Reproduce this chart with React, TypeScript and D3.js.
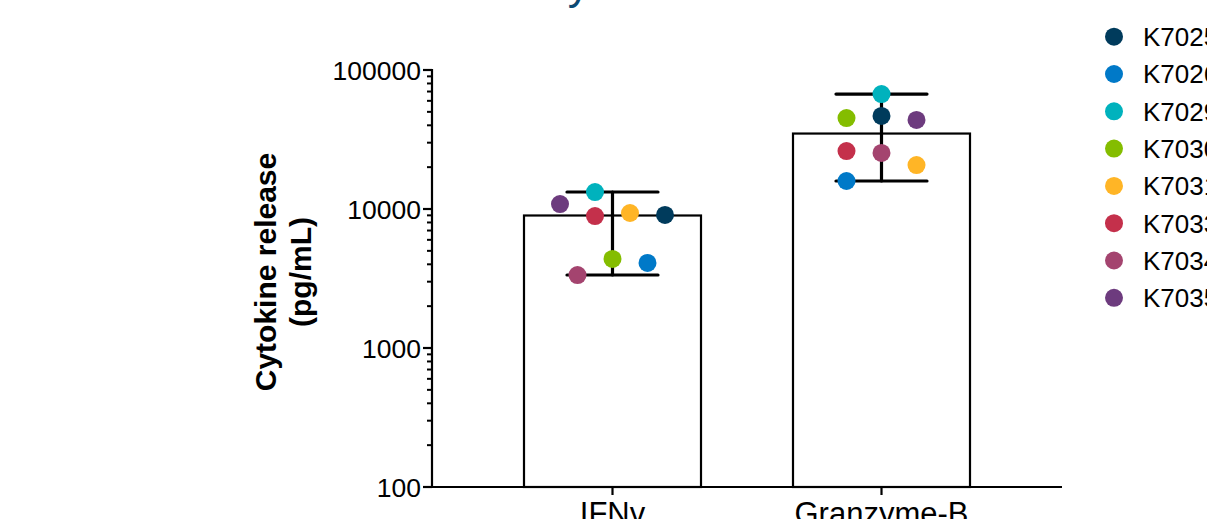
import React from "react";
import * as d3 from "d3";

const categories = ["IFNγ", "Granzyme-B"];
const donors = ["K7025", "K7026", "K7029", "K7030", "K7031", "K7033", "K7034", "K7035"];
const donorColors = ["#003b5c", "#0079c8", "#00b2bd", "#84bd00", "#ffb526", "#c4304b", "#a4446f", "#6d3b7e"];
const ifngValues = [9060, 4090, 13250, 4370, 9360, 8900, 3350, 10860];
const granzymeValues = [46700, 15900, 67100, 45100, 20700, 26100, 25300, 43700];
const seriesValues = [ifngValues, granzymeValues];
// beeswarm slot of each donor within its column (layout order)
const ifngSlots = [3, 2, -1, 0, 1, -1, -2, -3];
const granzymeSlots = [0, -2, 0, -2, 2, -2, 0, 2];
const slots = [ifngSlots, granzymeSlots];
const yTickValues = [100, 1000, 10000, 100000];
const yTickLabels = ["100", "1000", "10000", "100000"];
const titleText = "Cytokine release";
const yLabelLines = ["Cytokine release", "(pg/mL)"];

const W = 1207;
const H = 519;
const FONT = "Liberation Sans, Arial, Helvetica, sans-serif";

export default function App() {
  const left = 432;
  const right = 1062;
  const top = 70;
  const bottom = 487;

  const y = d3.scaleLog().domain([100, 100000]).range([bottom, top]);
  const x = d3.scalePoint<string>().domain(categories).range([left, right]).padding(0.671);
  const step = x.step();
  const barW = step * 0.658;
  const slotW = 17.5;
  const capHalf = 45.5;

  const minorTicks: number[] = [];
  for (let d = 100; d < 100000; d *= 10) {
    for (let k = 2; k <= 9; k++) minorTicks.push(d * k);
  }

  return (
    <svg width={W} height={H} style={{ position: "absolute", left: 0, top: 0, background: "#fff" }} fontFamily={FONT}>
      {/* title (mostly outside the frame) */}
      <text x={536} y={-1.5} fontSize={44} fill="#0b4a74">{titleText}</text>

      {/* bars */}
      {categories.map((c, i) => {
        const med = d3.median(seriesValues[i]) as number;
        const cx = x(c) as number;
        return (
          <rect key={c} x={cx - barW / 2} y={y(med)} width={barW} height={bottom - y(med)}
            fill="#fff" stroke="#000" strokeWidth={2.2} />
        );
      })}

      {/* error bars (range) */}
      {categories.map((c, i) => {
        const mn = d3.min(seriesValues[i]) as number;
        const mx = d3.max(seriesValues[i]) as number;
        const cx = x(c) as number;
        return (
          <g key={"e" + c} stroke="#000" strokeWidth={3.2} strokeLinecap="round">
            <line x1={cx} x2={cx} y1={y(mx)} y2={y(mn)} />
            <line x1={cx - capHalf} x2={cx + capHalf} y1={y(mx)} y2={y(mx)} />
            <line x1={cx - capHalf} x2={cx + capHalf} y1={y(mn)} y2={y(mn)} />
          </g>
        );
      })}

      {/* points */}
      {categories.map((c, i) => {
        const cx = x(c) as number;
        return (
          <g key={"p" + c}>
            {seriesValues[i].map((v, j) => (
              <circle key={j} cx={cx + slots[i][j] * slotW} cy={y(v)} r={9} fill={donorColors[j]} />
            ))}
          </g>
        );
      })}

      {/* y axis */}
      <line x1={left} x2={left} y1={top - 1} y2={bottom} stroke="#000" strokeWidth={2.2} />
      {minorTicks.map((t) => (
        <line key={t} x1={left - 5} x2={left} y1={y(t)} y2={y(t)} stroke="#000" strokeWidth={2} />
      ))}
      {yTickValues.map((t, i) => (
        <g key={t}>
          <line x1={left - 9} x2={left} y1={y(t)} y2={y(t)} stroke="#000" strokeWidth={2.2} />
          <text x={left - 11} y={y(t)} dy="0.36em" textAnchor="end" fontSize={26.5} fill="#000">{yTickLabels[i]}</text>
        </g>
      ))}

      {/* x axis */}
      <line x1={left - 1} x2={right} y1={bottom} y2={bottom} stroke="#000" strokeWidth={2.2} />
      {categories.map((c) => (
        <g key={"x" + c}>
          <line x1={x(c)} x2={x(c)} y1={bottom} y2={bottom + 8} stroke="#000" strokeWidth={2.2} />
          <text x={x(c)} y={524} textAnchor="middle" fontSize={31} fill="#000">{c}</text>
        </g>
      ))}

      {/* y label */}
      <g transform="translate(265,272) rotate(-90)">
        <text x={0} y={0} dy="0.36em" textAnchor="middle" fontSize={30} fontWeight="bold" fill="#000">{yLabelLines[0]}</text>
        <text x={0} y={35} dy="0.36em" textAnchor="middle" fontSize={30} fontWeight="bold" fill="#000">{yLabelLines[1]}</text>
      </g>

      {/* legend */}
      {donors.map((d, j) => (
        <g key={d} transform={`translate(1114,${36.7 + j * 37.3})`}>
          <circle r={9} fill={donorColors[j]} />
          <text x={29} y={0} dy="0.36em" fontSize={26} fill="#000">{d}</text>
        </g>
      ))}
    </svg>
  );
}
